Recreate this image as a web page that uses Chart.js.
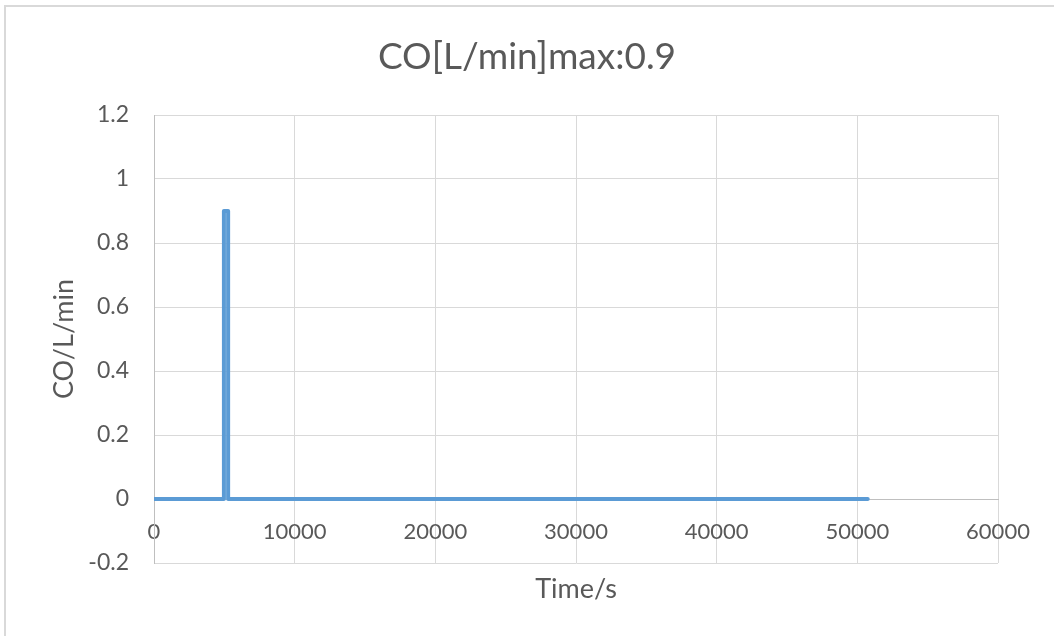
<!DOCTYPE html>
<html>
<head>
<meta charset="utf-8">
<script src="https://cdn.jsdelivr.net/npm/chart.js@4/dist/chart.umd.min.js"></script>
<style>
  html, body { margin: 0; padding: 0; background: #fff; }
  #wrap { position: relative; width: 1054px; height: 636px; overflow: hidden; }
  #frame { position: absolute; left: 4px; top: 5px; width: 1100px; height: 700px; border: 2px solid #d9d9d9; pointer-events: none; }
  #title { position: absolute; left: 0; top: 37px; width: 1054px; text-align: center; font: 37px/36px Lato, "Open Sans", sans-serif; color: #595959; }
</style>
</head>
<body>
<div id="wrap">
  <canvas id="myChart" width="1054" height="636"></canvas>
  <div id="frame"></div>
  <div id="title"></div>
</div>
<script>
// CO trace: flat at 0, one spike of 0.9 around 5000 s
var times = [0, 4970, 4970, 5270, 5270, 50740];
var coValues = [0, 0, 0.9, 0.9, 0, 0];
var chartTitle = "CO[L/min]max:0.9";
var xTitle = "Time/s";
var yTitle = "CO/L/min";

document.getElementById("title").textContent = chartTitle;

var points = [];
for (var i = 0; i < times.length; i++) {
  points.push({ x: times[i], y: coValues[i] });
}

var textColor = '#595959';
var gridColor = '#d9d9d9';
var fontFam = 'Lato, "Open Sans", sans-serif';

var ctx = document.getElementById("myChart").getContext('2d');
var lineChart = new Chart(ctx, {
  type: 'line',
  data: {
    datasets: [{
      label: yTitle,
      data: points,
      borderColor: '#5b9bd5',
      backgroundColor: '#5b9bd5',
      borderWidth: 4,
      pointRadius: 0,
      tension: 0,
      fill: false,
      borderCapStyle: 'round',
      borderJoinStyle: 'round'
    }]
  },
  options: {
    responsive: false,
    animation: false,
    layout: { padding: { left: 0, top: 115, right: 56, bottom: 73 } },
    plugins: {
      legend: { display: false },
      tooltip: { enabled: false },
      title: { display: false }
    },
    scales: {
      x: {
        type: 'linear',
        position: { y: 0 },
        min: 0,
        max: 60000,
        ticks: {
          stepSize: 10000,
          color: textColor,
          font: { family: fontFam, size: 22 },
          padding: 20,
          maxRotation: 0,
          callback: function (v) { return String(v); }
        },
        grid: { color: gridColor, drawTicks: false },
        border: { color: '#bfbfbf', width: 1 },
        title: {
          display: true,
          text: xTitle,
          color: textColor,
          font: { family: fontFam, size: 27 },
          padding: { top: 8, bottom: 0 }
        }
      },
      y: {
        min: -0.2,
        max: 1.2,
        ticks: {
          stepSize: 0.2,
          color: textColor,
          font: { family: fontFam, size: 23 },
          padding: 25,
          callback: function (v) { return String(+v.toFixed(1)); }
        },
        grid: { color: gridColor, drawTicks: false },
        border: { color: '#bfbfbf', width: 1 },
        title: {
          display: true,
          text: yTitle,
          color: textColor,
          font: { family: fontFam, size: 27 },
          padding: { top: 48, bottom: 0 }
        },
        afterFit: function (scale) { scale.width = 154; }
      }
    }
  }
});
</script>
</body>
</html>
